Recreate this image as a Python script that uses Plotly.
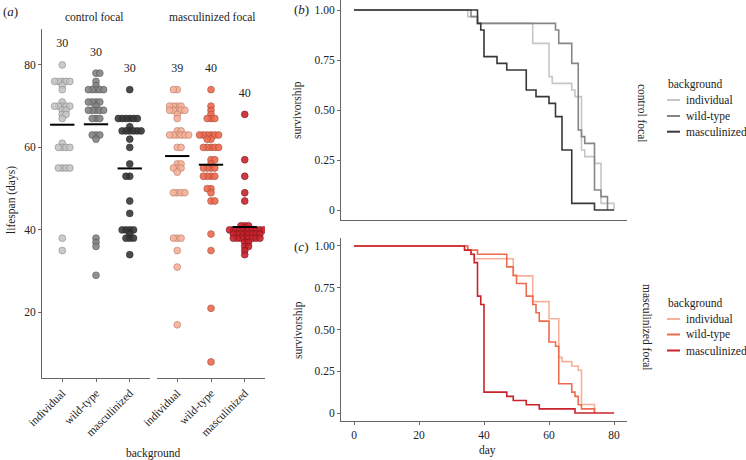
import numpy as np
import plotly.graph_objects as go

W, H = 746, 460
FONT = "Liberation Serif"

# ---------------- data ----------------
groups = ["individual", "wild-type", "masculinized"]
facets = ["control focal", "masculinized focal"]

ctrl_ind = [80, 76, 76, 76, 76, 76, 75, 74, 71, 70, 70, 70, 70, 70, 69, 69, 68, 68, 67, 61,
            60, 60, 60, 60, 55, 55, 55, 55, 38, 35]
ctrl_wt = [78, 78, 76, 75, 74, 74, 74, 74, 74, 71, 71, 71, 71, 70, 69, 69, 69, 69, 69, 67,
           67, 67, 63, 63, 63, 62, 38, 37, 36, 29]
ctrl_masc = [74, 67, 67, 67, 67, 67, 67, 65, 64, 64, 64, 64, 64, 64, 62, 60, 56, 53, 53, 47,
             44, 40, 40, 40, 40, 39, 38, 38, 38, 34]
mf_ind = [74, 74, 70, 70, 70, 70, 69, 69, 69, 69, 69, 68, 67, 64, 64, 63, 63, 63, 63, 63, 63,
          60, 60, 56, 56, 55, 55, 55, 54, 49, 49, 49, 49, 38, 38, 38, 35, 31, 17]
mf_wt = [74, 70, 69, 68, 67, 67, 67, 63, 63, 63, 63, 63, 63, 62, 62, 60, 60, 60, 60, 60, 57,
         57, 56, 55, 55, 55, 55, 53, 53, 53, 53, 50, 50, 49, 47, 47, 39, 35, 21, 8]
mf_masc = [68, 57, 53, 49, 47, 41, 41, 41, 40, 40, 40, 40, 40, 40, 40, 40, 40, 40, 39, 39, 39,
           39, 39, 39, 39, 39, 38, 38, 38, 38, 38, 38, 38, 38, 37, 37, 36, 36, 35, 34]

lifespans = [[ctrl_ind, ctrl_wt, ctrl_masc], [mf_ind, mf_wt, mf_masc]]

# survival step curves: day of each drop and survivorship after it
ctrl_ind_days = [35, 38, 55, 60, 61, 67, 68, 70, 71, 74, 76, 80]
ctrl_ind_surv = [0.967, 0.933, 0.833, 0.667, 0.633, 0.6, 0.567, 0.3, 0.267, 0.233, 0.033, 0.0]
ctrl_wt_days = [36, 38, 62, 63, 67, 69, 70, 71, 74, 76, 78]
ctrl_wt_surv = [0.967, 0.933, 0.9, 0.833, 0.733, 0.4, 0.367, 0.333, 0.1, 0.067, 0.0]
ctrl_masc_days = [38, 39, 40, 44, 47, 53, 56, 60, 62, 64, 67, 74, 80]
ctrl_masc_surv = [0.933, 0.9, 0.767, 0.733, 0.7, 0.6, 0.567, 0.533, 0.467, 0.3, 0.033, 0.0, 0.0]

mf_ind_days = [35, 36, 37, 49, 55, 60, 63, 64, 67, 69, 70, 74]
mf_ind_surv = [0.974, 0.949, 0.923, 0.821, 0.667, 0.564, 0.333, 0.308, 0.282, 0.256, 0.051, 0.0]
mf_wt_days = [35, 38, 47, 49, 50, 53, 55, 56, 57, 60, 62, 63, 67, 68, 69, 70, 74]
mf_wt_surv = [0.975, 0.95, 0.875, 0.825, 0.775, 0.7, 0.65, 0.6, 0.55, 0.425, 0.4, 0.175,
              0.125, 0.1, 0.05, 0.025, 0.0]
mf_masc_days = [34, 36, 37, 38, 39, 40, 47, 49, 53, 57, 68, 80]
mf_masc_surv = [0.975, 0.95, 0.9, 0.7, 0.65, 0.125, 0.1, 0.075, 0.05, 0.025, 0.0, 0.0]

surv_days = [[ctrl_ind_days, ctrl_wt_days, ctrl_masc_days], [mf_ind_days, mf_wt_days, mf_masc_days]]
surv_vals = [[ctrl_ind_surv, ctrl_wt_surv, ctrl_masc_surv], [mf_ind_surv, mf_wt_surv, mf_masc_surv]]

lifespan_ticks = [20, 40, 60, 80]
surv_ticks = [0, 0.25, 0.5, 0.75, 1.0]
surv_ticktext = ["0", "0.25", "0.50", "0.75", "1.00"]
day_ticks = [0, 20, 40, 60, 80]

# ---------------- styles ----------------
colors = [["#c6c6c6", "#868686", "#383838"], ["#f7b19a", "#ee6b4f", "#c9232b"]]
outline = [["#8a8a8a", "#555555", "#222222"], ["#b87a66", "#a84a36", "#7a1418"]]
AX = "#666666"
TXT = "#222222"


def px(x):
    return x / W


def py(y):
    return 1 - y / H


# left panel geometry (pixels)
A_TOP, A_BOT = 29, 378
A_YR = [4.1, 88.7]
facet_px = [(42, 150), (157, 265)]
A_XR = [0.4, 3.6]
ppu_y = (A_BOT - A_TOP) / (A_YR[1] - A_YR[0])
ppu_x = (facet_px[0][1] - facet_px[0][0]) / (A_XR[1] - A_XR[0])


def swarm(values, d):
    vals = np.asarray(values, float)
    order = np.argsort(vals, kind="stable")
    placed = []
    offs = np.zeros(len(vals))
    for k, i in enumerate(order):
        y = vals[i] * ppu_y
        iv = []
        for xp, yp in placed:
            dy = abs(y - yp)
            if dy < d:
                w = np.sqrt(d * d - dy * dy)
                iv.append((xp - w, xp + w))
        cands = [0.0] + [a for a, b in iv] + [b for a, b in iv]
        sgn = 1 if k % 2 == 0 else -1
        cands.sort(key=lambda c: (round(abs(c), 6), sgn * c))
        x = 0.0
        for c in cands:
            if all(not (a + 1e-6 < c < b - 1e-6) for a, b in iv):
                x = c
                break
        placed.append((x, y))
        offs[i] = x / ppu_x
    return offs


fig = go.Figure()

# ---------------- panel (a) ----------------
for f in range(2):
    xa = "x" if f == 0 else "x2"
    ya = "y" if f == 0 else "y2"
    for g in range(3):
        vals = lifespans[f][g]
        off = swarm(vals, 3.8)
        fig.add_trace(go.Scatter(
            x=(g + 1) + off, y=vals, mode="markers", xaxis=xa, yaxis=ya,
            marker=dict(size=6.8, color=colors[f][g], opacity=0.9,
                        line=dict(color=outline[f][g], width=0.7)),
            showlegend=False, hoverinfo="skip"))
    for g in range(3):
        vals = lifespans[f][g]
        m = float(np.mean(vals))
        fig.add_trace(go.Scatter(
            x=[g + 1 - 0.36, g + 1 + 0.36], y=[m, m], mode="lines", xaxis=xa, yaxis=ya,
            line=dict(color="black", width=2), showlegend=False, hoverinfo="skip"))
    fig.add_trace(go.Scatter(
        x=[1, 2, 3], y=[max(v) + 5 for v in lifespans[f]],
        text=[str(len(v)) for v in lifespans[f]], mode="text", xaxis=xa, yaxis=ya,
        textfont=dict(family=FONT, size=12, color=TXT), showlegend=False, hoverinfo="skip"))

# ---------------- panels (b), (c) ----------------
for f in range(2):
    xa = "x3" if f == 0 else "x4"
    ya = "y3" if f == 0 else "y4"
    for g in range(3):
        d = [0] + surv_days[f][g]
        s = [1.0] + surv_vals[f][g]
        fig.add_trace(go.Scatter(
            x=d, y=s, mode="lines", line=dict(color=colors[f][g], width=1.6, shape="hv"),
            xaxis=xa, yaxis=ya, showlegend=False, hoverinfo="skip"))

axis_common = dict(showgrid=False, zeroline=False, showline=True, linecolor=AX, linewidth=1,
                   ticks="outside", ticklen=3, tickcolor=AX, automargin=False,
                   tickfont=dict(family=FONT, size=11.5, color=TXT))

fig.update_layout(
    width=W, height=H, margin=dict(l=0, r=0, t=0, b=0, autoexpand=False),
    paper_bgcolor="white", plot_bgcolor="white",
    font=dict(family=FONT, size=11.5, color=TXT),
    xaxis=dict(domain=[px(42), px(150)], range=A_XR, anchor="y", tickvals=[1, 2, 3],
               ticktext=groups, tickangle=-45, **axis_common),
    xaxis2=dict(domain=[px(157), px(265)], range=A_XR, anchor="y2", tickvals=[1, 2, 3],
                ticktext=groups, tickangle=-45, **axis_common),
    yaxis=dict(domain=[py(A_BOT), py(A_TOP)], range=A_YR, anchor="x", tickvals=lifespan_ticks,
               **axis_common),
    yaxis2=dict(domain=[py(A_BOT), py(A_TOP)], range=A_YR, anchor="x2", visible=False,
                automargin=False),
    xaxis3=dict(domain=[px(341), px(627)], range=[-4, 84], anchor="y3",
                **{**axis_common, "ticks": "", "showticklabels": False}),
    yaxis3=dict(domain=[py(220), py(0)], range=[-0.05, 1.05], anchor="x3",
                tickvals=surv_ticks, ticktext=surv_ticktext, **axis_common),
    xaxis4=dict(domain=[px(341), px(627)], range=[-4, 84], anchor="y4", tickvals=day_ticks,
                **axis_common),
    yaxis4=dict(domain=[py(421.4), py(237.6)], range=[-0.05, 1.05], anchor="x4",
                tickvals=surv_ticks, ticktext=surv_ticktext, **axis_common),
)

ann = []


def A(text, x, y, size=11.5, xanchor="center", yanchor="middle", angle=0):
    ann.append(dict(text=text, x=px(x), y=py(y), xref="paper", yref="paper", showarrow=False,
                    xanchor=xanchor, yanchor=yanchor, textangle=angle,
                    font=dict(family=FONT, size=size, color=TXT)))


A("(<i>a</i>)", 1, 12, size=13, xanchor="left")
A("(<i>b</i>)", 292, 10, size=13, xanchor="left")
A("(<i>c</i>)", 292, 246, size=13, xanchor="left")
A(facets[0], 94, 17)
A(facets[1], 212.5, 17)
A("lifespan (days)", 12, 200, angle=-90)
A("background", 153, 453)
A("survivorship", 298, 110, angle=-90)
A("survivorship", 298, 330, angle=-90)
A("day", 487, 450)
A(facets[0], 642, 113, angle=90)
A(facets[1], 647, 327, angle=90)

shapes = []
legend_rows = [(84, [100, 116, 131.7]), (303, [319, 334.5, 350.5])]
for f in range(2):
    ty, rows = legend_rows[f]
    A("background", 666, ty, xanchor="left")
    for g in range(3):
        shapes.append(dict(type="line", xref="paper", yref="paper", x0=px(667), x1=px(680),
                           y0=py(rows[g]), y1=py(rows[g]),
                           line=dict(color=colors[f][g], width=2)))
        A(groups[g], 684, rows[g], xanchor="left")

fig.update_layout(annotations=ann, shapes=shapes)
fig.write_html("out.html", config={"displayModeBar": False},
               post_script="document.body.style.margin='0';document.body.style.padding='0';")
